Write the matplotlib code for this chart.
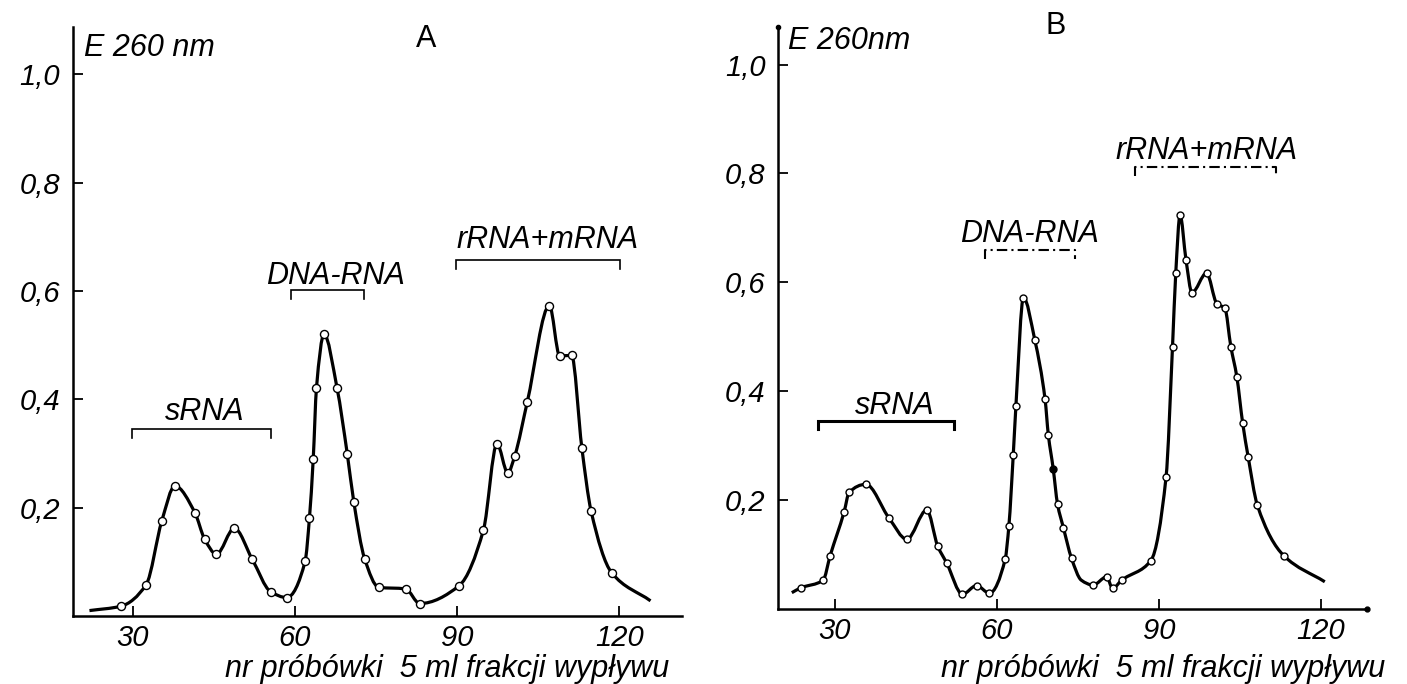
import numpy as np
import matplotlib
matplotlib.use("Agg")
import matplotlib.pyplot as plt
from matplotlib.path import Path
from matplotlib.patches import PathPatch

# ---------------- data ----------------
# Panel A: tube number vs extinction at 260 nm
a_tube = [22.0, 27.8, 32.5, 35.4, 37.8, 41.5, 43.3, 45.5, 48.8, 52.1, 55.5, 58.5,
          61.9, 62.7, 63.4, 64.0, 65.4, 67.8, 69.7, 70.9, 72.9, 75.5, 80.5, 83.1,
          90.4, 94.9, 97.4, 99.4, 100.7, 103.0, 107.1, 109.0, 111.2, 113.1, 114.8,
          118.6, 125.8]
a_ext = [0.010, 0.018, 0.058, 0.176, 0.240, 0.191, 0.142, 0.114, 0.162, 0.105, 0.045, 0.034,
         0.101, 0.181, 0.290, 0.421, 0.520, 0.421, 0.299, 0.211, 0.106, 0.053, 0.050, 0.023,
         0.056, 0.159, 0.318, 0.264, 0.296, 0.395, 0.573, 0.480, 0.481, 0.310, 0.194,
         0.080, 0.028]
# marker kind per point: n = line only, o = open circle, f = filled circle
a_mark = ['n'] + ['o'] * 35 + ['n']

# Panel B
b_tube = [22.0, 23.7, 27.8, 29.1, 31.7, 32.6, 35.7, 40.0, 43.3, 47.0, 49.0, 50.7,
          53.6, 56.2, 58.6, 61.5, 62.2, 63.0, 63.5, 64.9, 67.0, 68.9, 69.5, 70.4,
          71.2, 72.3, 73.8, 75.6, 77.8, 80.3, 81.4, 83.1, 88.5, 91.3, 92.5, 93.1,
          93.9, 95.0, 96.1, 98.8, 100.7, 102.2, 103.3, 104.4, 105.5, 106.5, 108.2,
          113.1, 120.7]
b_ext = [0.030, 0.039, 0.053, 0.098, 0.179, 0.214, 0.229, 0.167, 0.128, 0.182, 0.116, 0.084,
         0.027, 0.043, 0.029, 0.091, 0.153, 0.282, 0.373, 0.572, 0.494, 0.385, 0.320, 0.258,
         0.193, 0.149, 0.093, 0.053, 0.044, 0.059, 0.038, 0.053, 0.089, 0.242, 0.482, 0.617,
         0.724, 0.641, 0.581, 0.617, 0.561, 0.552, 0.482, 0.427, 0.341, 0.280, 0.191,
         0.098, 0.050]
b_mark = (['n'] + ['o'] * 22 + ['f'] + ['o'] * 3 + ['n'] + ['o'] * 20 + ['n'])

y_ticks = [0.2, 0.4, 0.6, 0.8, 1.0]
y_tick_labels = ["0,2", "0,4", "0,6", "0,8", "1,0"]
x_ticks = [30, 60, 90, 120]
x_tick_labels = ["30", "60", "90", "120"]

# fraction brackets: label, start tube, end tube, level, text x, text y
a_brackets = [("sRNA", 29.8, 55.5, 0.345, 43.4, 0.376),
              ("DNA-RNA", 59.2, 72.8, 0.601, 67.5, 0.628),
              ("rRNA+mRNA", 89.9, 120.2, 0.657, 106.7, 0.693)]
b_brackets = [("sRNA", 26.9, 52.1, 0.346, 41.1, 0.372),
              ("DNA-RNA", 57.8, 74.4, 0.659, 66.1, 0.689),
              ("rRNA+mRNA", 85.5, 111.6, 0.812, 98.8, 0.842)]

panel_titles = ["A", "B"]
y_title = ["E 260 nm", "E 260nm"]
x_title = "nr próbówki  5 ml frakcji wypływu"

# ---------------- drawing ----------------
FONT = "Liberation Sans"
plt.rcParams['font.family'] = [FONT, 'DejaVu Sans']

W, H = 1407, 684
fig = plt.figure(figsize=(W / 100, H / 100), dpi=100)
fig.patch.set_facecolor('white')


def pchip_slopes(x, y):
    x = np.asarray(x, float)
    y = np.asarray(y, float)
    h = np.diff(x)
    d = np.diff(y) / h
    m = np.zeros_like(y)
    for k in range(1, len(x) - 1):
        if d[k - 1] * d[k] <= 0:
            m[k] = 0.0
        else:
            w1 = 2 * h[k] + h[k - 1]
            w2 = h[k] + 2 * h[k - 1]
            m[k] = (w1 + w2) / (w1 / d[k - 1] + w2 / d[k])
    m[0] = d[0]
    m[-1] = d[-1]
    return m


def smooth_path(x, y):
    m = pchip_slopes(x, y)
    verts = [(x[0], y[0])]
    codes = [Path.MOVETO]
    for k in range(len(x) - 1):
        h = x[k + 1] - x[k]
        verts += [(x[k] + h / 3, y[k] + m[k] * h / 3),
                  (x[k + 1] - h / 3, y[k + 1] - m[k + 1] * h / 3),
                  (x[k + 1], y[k + 1])]
        codes += [Path.CURVE4] * 3
    return Path(verts, codes)


def panel(rect, xlim, ylim, tube, ext, marks, brackets, ms, bstyles, bwidths):
    ax = fig.add_axes(rect)
    ax.set_xlim(*xlim)
    ax.set_ylim(*ylim)
    for s in ('top', 'right'):
        ax.spines[s].set_visible(False)
    for s in ('left', 'bottom'):
        ax.spines[s].set_linewidth(1.8)
    ax.set_xticks(x_ticks)
    ax.set_xticklabels(x_tick_labels)
    ax.set_yticks(y_ticks)
    ax.set_yticklabels(y_tick_labels)
    ax.tick_params(direction='in', length=7, width=1.3, labelsize=21)
    ax.tick_params(axis='y', pad=9)
    ax.tick_params(axis='x', pad=6)
    for lab in ax.get_xticklabels() + ax.get_yticklabels():
        lab.set_fontstyle('italic')

    ax.add_patch(PathPatch(smooth_path(tube, ext), facecolor='none',
                           edgecolor='black', lw=2.3, zorder=3))
    xo = [t for t, mk in zip(tube, marks) if mk == 'o']
    yo = [e for e, mk in zip(ext, marks) if mk == 'o']
    xf = [t for t, mk in zip(tube, marks) if mk == 'f']
    yf = [e for e, mk in zip(ext, marks) if mk == 'f']
    ax.plot(xo, yo, 'o', ms=ms, mfc='white', mec='black', mew=1.0, zorder=4)
    if xf:
        ax.plot(xf, yf, 'o', ms=ms, mfc='black', mec='black', mew=1.0, zorder=4)

    tick = 0.016
    for (lab, x0, x1, lev, tx, ty), ls, lw in zip(brackets, bstyles, bwidths):
        ax.plot([x0, x0, x1, x1], [lev - tick, lev, lev, lev - tick],
                color='black', lw=lw, ls=ls, solid_joinstyle='miter')
        ax.text(tx, ty, lab, ha='center', va='center', fontsize=22,
                fontstyle='italic')
    return ax


dashdot = (0, (5, 2, 1, 2))
axA = panel([72.7 / W, (H - 616) / H, (682.4 - 72.7) / W, (616 - 27) / H],
            (18.9, 131.7), (0.0, 1.087), a_tube, a_ext, a_mark, a_brackets,
            5.8, ['-', '-', '-'], [1.2, 1.2, 1.2])
axB = panel([778 / W, (H - 609) / H, (1366.7 - 778) / W, (609 - 27) / H],
            (19.44, 128.46), (0.0, 1.069), b_tube, b_ext, b_mark, b_brackets,
            5.0, ['-', dashdot, dashdot], [2.2, 1.5, 1.5])

# y-axis titles
fig.text(84 / W, 1 - 48 / H, y_title[0], ha='left', va='center', fontsize=22,
         fontstyle='italic')
fig.text(788 / W, 1 - 41 / H, y_title[1], ha='left', va='center', fontsize=22,
         fontstyle='italic')

# panel letters
fig.text(426 / W, 1 - 39 / H, panel_titles[0], ha='center', va='center', fontsize=22)
fig.text(1056 / W, 1 - 26 / H, panel_titles[1], ha='center', va='center', fontsize=22)

# x-axis titles
fig.text(447 / W, 1 - 669 / H, x_title, ha='center', va='center', fontsize=22,
         fontstyle='italic')
fig.text(1163 / W, 1 - 669 / H, x_title, ha='center', va='center', fontsize=22,
         fontstyle='italic')

# small dots at axis ends of panel B
axB.plot([axB.get_xlim()[1]], [0.0], 'o', ms=3.5, color='black', clip_on=False)
axB.plot([axB.get_xlim()[0]], [axB.get_ylim()[1]], 'o', ms=3.0, color='black', clip_on=False)

fig.savefig("out.png", dpi=100, facecolor='white')
